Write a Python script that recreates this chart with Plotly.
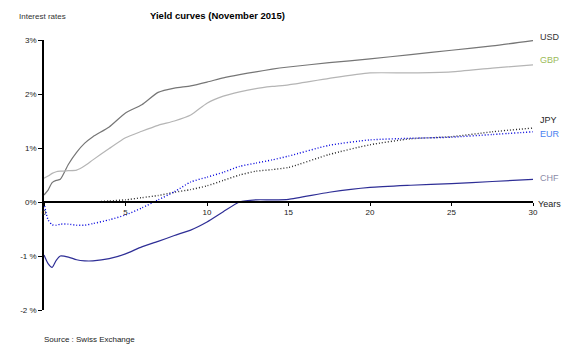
import plotly.graph_objects as go

# Maturities in years
maturities = [0, 0.25, 0.5, 0.75, 1, 1.5, 2, 2.5, 3, 4, 5, 6, 7, 8, 9, 10,
              11, 12, 13, 14, 15, 17.5, 20, 22.5, 25, 27.5, 30]

# Government bond yields in percent, November 2015
usd = [0.13, 0.22, 0.36, 0.40, 0.42, 0.70, 0.92, 1.09, 1.21, 1.39, 1.65, 1.80,
       2.03, 2.11, 2.15, 2.22, 2.30, 2.36, 2.41, 2.46, 2.50, 2.58, 2.65, 2.73,
       2.81, 2.89, 2.99]
gbp = [0.44, 0.48, 0.53, 0.56, 0.57, 0.58, 0.59, 0.67, 0.78, 0.99, 1.19, 1.31,
       1.42, 1.50, 1.61, 1.83, 1.96, 2.04, 2.10, 2.14, 2.17, 2.29, 2.39, 2.39,
       2.41, 2.48, 2.54]
jpy = [0.0, 0.0, 0.0, 0.0, 0.0, 0.0, 0.0, 0.0, 0.0, 0.02, 0.04, 0.08,
       0.12, 0.18, 0.23, 0.30, 0.40, 0.50, 0.57, 0.60, 0.64, 0.88, 1.06, 1.17,
       1.21, 1.30, 1.37]
eur = [-0.02, -0.33, -0.42, -0.43, -0.41, -0.41, -0.43, -0.43, -0.40, -0.33,
       -0.24, -0.11, 0.04, 0.19, 0.37, 0.46, 0.55, 0.66, 0.72, 0.78, 0.85, 1.05,
       1.15, 1.18, 1.20, 1.25, 1.30]
chf = [-0.98, -1.14, -1.21, -1.08, -1.00, -1.02, -1.07, -1.09, -1.09, -1.05,
       -0.96, -0.83, -0.73, -0.62, -0.52, -0.37, -0.18, 0.0, 0.04, 0.04, 0.05,
       0.18, 0.27, 0.31, 0.34, 0.38, 0.42]

y_ticks = [-2, -1, 0, 1, 2, 3]
y_tick_text = ["-2 %", "-1 %", "0%", "1%", "2%", "3%"]
x_ticks = [0, 5, 10, 15, 20, 25, 30]

FONT = "Liberation Sans, Arial, sans-serif"
DOTS = "1px,2px"

series = [
    # name, values, line colour, dash, label colour, label vertical shift
    ("USD", usd, "#767676", "solid", "#333333", 4),
    ("GBP", gbp, "#b5b5b5", "solid", "#9bbb59", 5),
    ("JPY", jpy, "#2a2a2a", DOTS, "#222222", 8),
    ("EUR", eur, "#0000dd", DOTS, "#4a7ff0", -2),
    ("CHF", chf, "#2e2e96", "solid", "#8a8aa8", 1),
]

fig = go.Figure()
annotations = []
for name, vals, color, dash, lcolor, shift in series:
    fig.add_trace(go.Scatter(
        x=maturities, y=vals, mode="lines", name=name,
        line=dict(color=color, width=1.2 if dash == "solid" else 1.4,
                  dash=dash, shape="spline", smoothing=0.6),
        hoverinfo="x+y+name",
    ))
    annotations.append(dict(
        x=maturities[-1], y=vals[-1], xref="x", yref="y", text=name,
        showarrow=False, xanchor="left", yanchor="middle", xshift=5, yshift=shift,
        font=dict(family=FONT, size=9, color=lcolor),
    ))

annotations += [
    dict(x=0.354, y=1, xref="paper", yref="paper",
         text="<b>Yield curves (November 2015)</b>", showarrow=False,
         xanchor="center", yanchor="bottom", yshift=17,
         font=dict(family=FONT, size=9.5, color="#000000")),
    dict(x=0, y=1, xref="paper", yref="paper", text="Interest rates",
         showarrow=False, xanchor="left", yanchor="bottom", xshift=-27, yshift=17,
         font=dict(family=FONT, size=8, color="#333333")),
    dict(x=1, y=0.4, xref="paper", yref="paper", text="Years",
         showarrow=False, xanchor="left", yanchor="middle", xshift=3, yshift=-2,
         font=dict(family=FONT, size=9, color="#222222")),
    dict(x=0, y=0, xref="paper", yref="paper", text="Source : Swiss Exchange",
         showarrow=False, xanchor="left", yanchor="top", xshift=-2, yshift=-23,
         font=dict(family=FONT, size=8, color="#222222")),
]

fig.update_layout(
    width=573, height=350,
    margin=dict(l=44, r=40, t=40, b=40),
    paper_bgcolor="white", plot_bgcolor="white",
    showlegend=False,
    font=dict(family=FONT, size=8, color="#222222"),
    xaxis=dict(
        range=[0, 30], tickvals=x_ticks, showgrid=False, zeroline=False,
        showline=True, linecolor="black", linewidth=1.5,
        ticks="outside", ticklen=3, tickcolor="black",
        anchor="free", position=0.4,
        tickfont=dict(family=FONT, size=8, color="#222222"),
    ),
    yaxis=dict(
        range=[-2, 3], tickvals=y_ticks, ticktext=y_tick_text, showgrid=False,
        zeroline=False, showline=True, linecolor="black", linewidth=1.5,
        ticks="outside", ticklen=4, tickcolor="black",
        tickfont=dict(family=FONT, size=8, color="#222222"),
    ),
    annotations=annotations,
)

fig.write_html("out.html")
